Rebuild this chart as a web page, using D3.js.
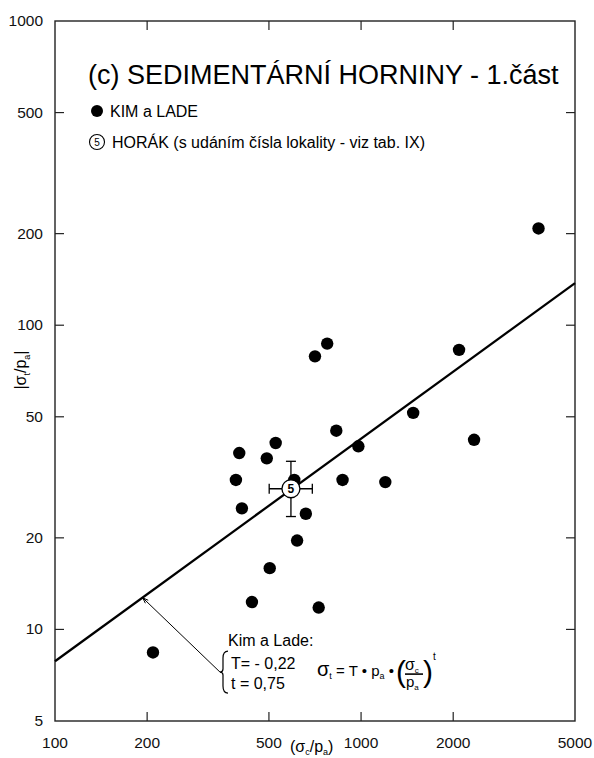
<!DOCTYPE html>
<html>
<head>
    <meta charset="utf-8">
    <title>SEDIMENTÁRNÍ HORNINY - 1.část</title>
    <script src="https://d3js.org/d3.v7.min.js"></script>
    <style>
        body { margin: 0; background: #fff; }
        svg { display: block; font-family: "Liberation Sans", Arial, sans-serif; }
        .tick-label { font-size: 15.5px; fill: #111; }
        .frame { fill: none; stroke: #222; stroke-width: 1.4px; }
        .tick { stroke: #222; stroke-width: 1.2px; }
    </style>
</head>
<body>
    <div id="chart"></div>

    <script>
        // osy (log) a popisky
        const xTicks = [100, 200, 500, 1000, 2000, 5000];
        const yTicks = [5, 10, 20, 50, 100, 200, 500, 1000];

        // Kim a Lade - body
        const kimX = [3800, 2090, 1480, 2340, 980, 1200, 870, 830, 775, 707, 605, 618, 660, 526, 492, 408, 400, 390, 503, 440, 727, 209];
        const kimY = [208, 83, 51.5, 42, 40, 30.5, 31, 45, 87, 79, 31, 19.6, 24, 41, 36.5, 25, 38, 31, 15.9, 12.3, 11.8, 8.4];

        // Horák - lokalita 5 s rozptylem
        const horakId = ["5"];
        const horakX = [590];
        const horakY = [29];
        const horakXRange = [501, 693];
        const horakYRange = [23.5, 35.7];

        // regresní přímka (T = 0,22; t = 0,75)
        const fitX = [100, 5000];
        const fitY = [7.86, 137.5];

        // šipka k popisu přímky
        const pointerX = [193.5, 346];
        const pointerY = [12.7, 7.24];

        const width = 594, height = 758;
        const plot = {left: 55, right: 575, top: 21, bottom: 721};

        const svg = d3.select("#chart")
            .append("svg")
            .attr("width", width)
            .attr("height", height);

        const x = d3.scaleLog().domain([100, 5000]).range([plot.left, plot.right]);
        const y = d3.scaleLog().domain([5, 1000]).range([plot.bottom, plot.top]);

        // rámeček
        svg.append("rect")
            .attr("class", "frame")
            .attr("x", plot.left)
            .attr("y", plot.top)
            .attr("width", plot.right - plot.left)
            .attr("height", plot.bottom - plot.top);

        const tickLen = 9;
        const innerX = xTicks.slice(1, -1);
        const innerY = yTicks.slice(1, -1);

        // značky na osách (dovnitř, všechny čtyři strany)
        svg.selectAll(".xt-bottom").data(innerX).enter().append("line")
            .attr("class", "tick")
            .attr("x1", d => x(d)).attr("x2", d => x(d))
            .attr("y1", plot.bottom).attr("y2", plot.bottom - tickLen);
        svg.selectAll(".xt-top").data(innerX).enter().append("line")
            .attr("class", "tick")
            .attr("x1", d => x(d)).attr("x2", d => x(d))
            .attr("y1", plot.top).attr("y2", plot.top + tickLen);
        svg.selectAll(".yt-left").data(innerY).enter().append("line")
            .attr("class", "tick")
            .attr("y1", d => y(d)).attr("y2", d => y(d))
            .attr("x1", plot.left).attr("x2", plot.left + tickLen);
        svg.selectAll(".yt-right").data(innerY).enter().append("line")
            .attr("class", "tick")
            .attr("y1", d => y(d)).attr("y2", d => y(d))
            .attr("x1", plot.right).attr("x2", plot.right - tickLen);

        // popisky os
        svg.selectAll(".xl").data(xTicks).enter().append("text")
            .attr("class", "tick-label")
            .attr("x", d => x(d))
            .attr("y", plot.bottom + 27)
            .attr("text-anchor", "middle")
            .text(d => d);
        svg.selectAll(".yl").data(yTicks).enter().append("text")
            .attr("class", "tick-label")
            .attr("x", plot.left - 12)
            .attr("y", d => y(d) + 5)
            .attr("text-anchor", "end")
            .text(d => d);

        // název osy x
        const xTitle = svg.append("text")
            .attr("x", 290)
            .attr("y", 752)
            .style("font-size", "16px");
        xTitle.append("tspan").text("(σ");
        xTitle.append("tspan").attr("dy", 3).style("font-size", "9px").text("c");
        xTitle.append("tspan").attr("dy", -3).text("/p");
        xTitle.append("tspan").attr("dy", 3).style("font-size", "9px").text("a");
        xTitle.append("tspan").attr("dy", -3).text(")");

        // název osy y
        const yTitle = svg.append("text")
            .attr("transform", "translate(26,370) rotate(-90)")
            .attr("text-anchor", "middle")
            .style("font-size", "16px");
        yTitle.append("tspan").text("|σ");
        yTitle.append("tspan").attr("dy", 4).style("font-size", "9px").text("t");
        yTitle.append("tspan").attr("dy", -4).text("/p");
        yTitle.append("tspan").attr("dy", 4).style("font-size", "9px").text("a");
        yTitle.append("tspan").attr("dy", -4).text("|");

        // titulek
        svg.append("text")
            .attr("x", 88)
            .attr("y", 84)
            .style("font-size", "27px")
            .text("(c) SEDIMENTÁRNÍ HORNINY - 1.část");

        // legenda
        svg.append("circle").attr("cx", 97).attr("cy", 111).attr("r", 6).attr("fill", "#000");
        svg.append("text").attr("x", 110).attr("y", 117).style("font-size", "16px").text("KIM a LADE");
        svg.append("circle").attr("cx", 97).attr("cy", 142).attr("r", 7.5)
            .attr("fill", "#fff").attr("stroke", "#000").attr("stroke-width", 1.1);
        svg.append("text").attr("x", 97).attr("y", 145.5).attr("text-anchor", "middle")
            .style("font-size", "10px").text("5");
        svg.append("text").attr("x", 112).attr("y", 148).style("font-size", "16px")
            .text("HORÁK (s udáním čísla lokality - viz tab. IX)");

        // regresní přímka
        svg.append("path")
            .datum(d3.zip(fitX, fitY))
            .attr("fill", "none")
            .attr("stroke", "#000")
            .attr("stroke-width", 2.3)
            .attr("d", d3.line().x(d => x(d[0])).y(d => y(d[1])));

        // body Kim a Lade
        svg.selectAll(".kim")
            .data(d3.zip(kimX, kimY))
            .enter()
            .append("circle")
            .attr("class", "kim")
            .attr("cx", d => x(d[0]))
            .attr("cy", d => y(d[1]))
            .attr("r", 6.2)
            .attr("fill", "#000");

        // Horák s chybovými úsečkami
        const cap = 5;
        horakId.forEach((id, i) => {
            const cx = x(horakX[i]), cy = y(horakY[i]);
            const g = svg.append("g").attr("stroke", "#000").attr("stroke-width", 1.3);
            g.append("line").attr("x1", x(horakXRange[0])).attr("x2", x(horakXRange[1])).attr("y1", cy).attr("y2", cy);
            g.append("line").attr("x1", cx).attr("x2", cx).attr("y1", y(horakYRange[0])).attr("y2", y(horakYRange[1]));
            g.append("line").attr("x1", x(horakXRange[0])).attr("x2", x(horakXRange[0])).attr("y1", cy - cap).attr("y2", cy + cap);
            g.append("line").attr("x1", x(horakXRange[1])).attr("x2", x(horakXRange[1])).attr("y1", cy - cap).attr("y2", cy + cap);
            g.append("line").attr("x1", cx - cap).attr("x2", cx + cap).attr("y1", y(horakYRange[0])).attr("y2", y(horakYRange[0]));
            g.append("line").attr("x1", cx - cap).attr("x2", cx + cap).attr("y1", y(horakYRange[1])).attr("y2", y(horakYRange[1]));
            svg.append("circle").attr("cx", cx).attr("cy", cy).attr("r", 9)
                .attr("fill", "#fff").attr("stroke", "#000").attr("stroke-width", 1.3);
            svg.append("text").attr("x", cx).attr("y", cy + 4.5).attr("text-anchor", "middle")
                .style("font-size", "12px").style("font-weight", "bold").text(id);
        });

        // šipka a popis přímky
        const p0 = [x(pointerX[0]), y(pointerY[0])];
        const p1 = [x(pointerX[1]), y(pointerY[1])];
        svg.append("line")
            .attr("x1", p0[0]).attr("y1", p0[1])
            .attr("x2", p1[0]).attr("y2", p1[1])
            .attr("stroke", "#000").attr("stroke-width", 1);
        const ang = Math.atan2(p1[1] - p0[1], p1[0] - p0[0]);
        const ah = 6;
        svg.append("path")
            .attr("d", `M${p0[0] + ah * Math.cos(ang - 0.35)},${p0[1] + ah * Math.sin(ang - 0.35)}L${p0[0]},${p0[1]}L${p0[0] + ah * Math.cos(ang + 0.35)},${p0[1] + ah * Math.sin(ang + 0.35)}`)
            .attr("fill", "none").attr("stroke", "#000").attr("stroke-width", 1);

        const ax = p1[0], ay = p1[1];
        svg.append("text").attr("x", ax + 8).attr("y", ay - 26).style("font-size", "16px").text("Kim a Lade:");
        // složená závorka
        svg.append("path")
            .attr("d", `M${ax + 8},${ay - 21} Q${ax + 3},${ay - 21} ${ax + 3},${ay - 14} L${ax + 3},${ay - 3} Q${ax + 3},${ay} ${ax},${ay} Q${ax + 3},${ay} ${ax + 3},${ay + 3} L${ax + 3},${ay + 14} Q${ax + 3},${ay + 21} ${ax + 8},${ay + 21}`)
            .attr("fill", "none").attr("stroke", "#000").attr("stroke-width", 1.2);
        svg.append("text").attr("x", ax + 11).attr("y", ay - 3).style("font-size", "16px").text("T= - 0,22");
        svg.append("text").attr("x", ax + 11).attr("y", ay + 17).style("font-size", "16px").text("t = 0,75");

        // vzorec
        const fx = ax + 97, fy = ay + 4;
        const f = svg.append("text").attr("x", fx).attr("y", fy).style("font-size", "20px");
        f.append("tspan").text("σ");
        f.append("tspan").attr("dy", 3).style("font-size", "9px").text("t");
        f.append("tspan").attr("dy", -3).style("font-size", "15px").text(" = T • p");
        f.append("tspan").attr("dy", 3).style("font-size", "9px").text("a");
        f.append("tspan").attr("dy", -3).style("font-size", "15px").text(" •");
        svg.append("text").attr("x", fx + 79).attr("y", fy + 6).style("font-size", "30px")
            .text("(");
        svg.append("text").attr("x", fx + 106).attr("y", fy + 6).style("font-size", "30px")
            .text(")");
        const num = svg.append("text").attr("x", fx + 88).attr("y", fy - 6).style("font-size", "16px");
        num.append("tspan").text("σ");
        num.append("tspan").attr("dy", 3).style("font-size", "8px").text("c");
        svg.append("line").attr("x1", fx + 88).attr("x2", fx + 106)
            .attr("y1", fy - 2).attr("y2", fy - 2).attr("stroke", "#000").attr("stroke-width", 1.6);
        const den = svg.append("text").attr("x", fx + 89).attr("y", fy + 11).style("font-size", "15px");
        den.append("tspan").text("p");
        den.append("tspan").attr("dy", 3).style("font-size", "8px").text("a");
        svg.append("text").attr("x", fx + 116).attr("y", fy - 16).style("font-size", "10px").text("t");
    </script>
</body>
</html>
